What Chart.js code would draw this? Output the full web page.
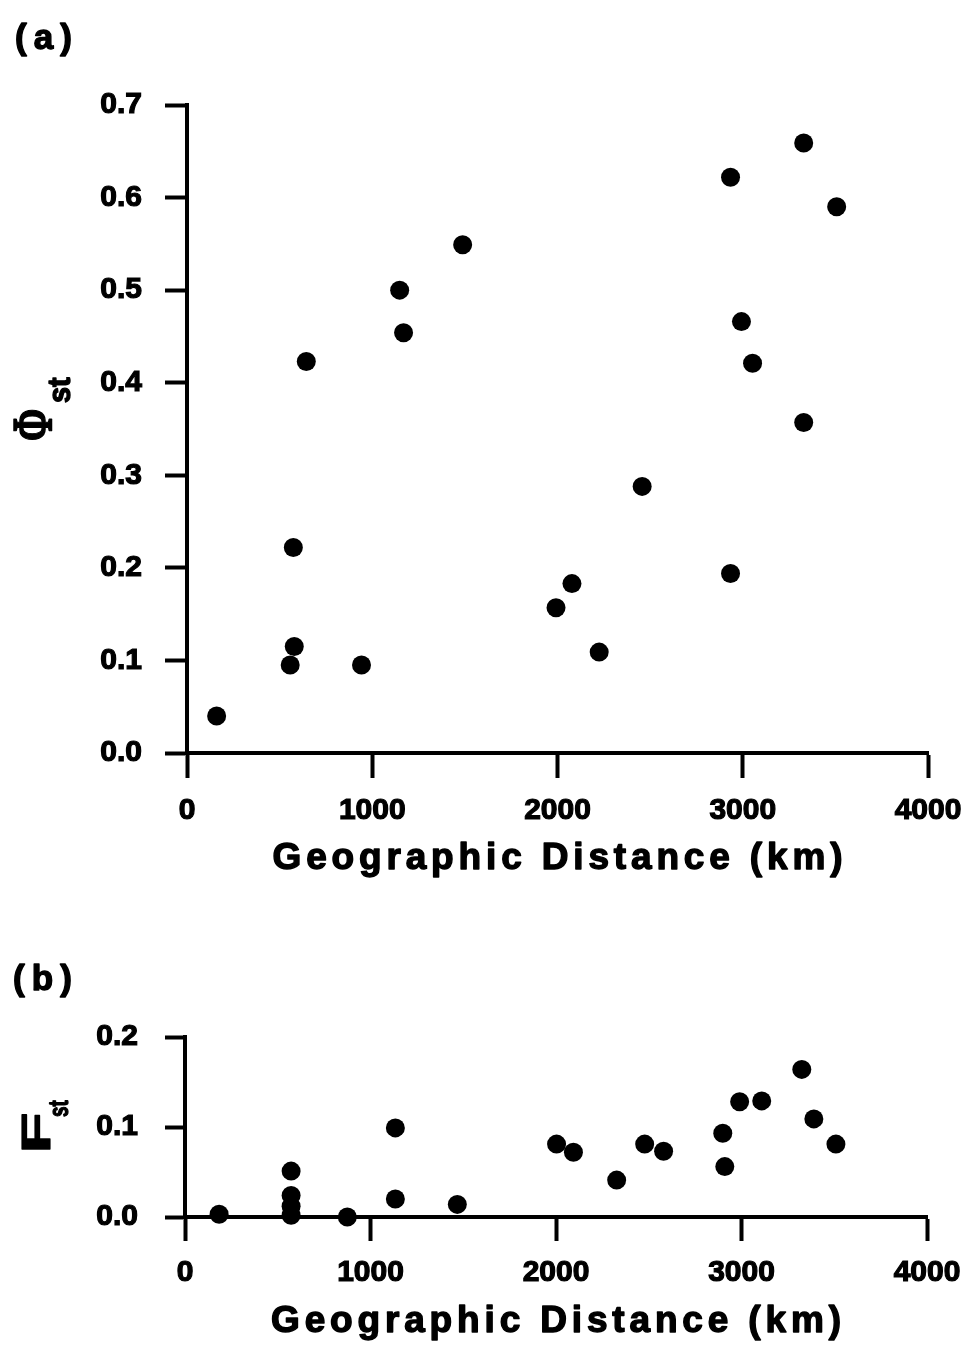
<!DOCTYPE html>
<html>
<head>
<meta charset="utf-8">
<script src="https://cdn.jsdelivr.net/npm/chart.js@4.4.1/dist/chart.umd.min.js"></script>
<style>
  body { margin: 0; background: #fff; }
  canvas { display: block; }
</style>
</head>
<body>
<canvas id="chartA" width="963" height="900"></canvas>
<canvas id="chartB" width="963" height="447"></canvas>
<script>
// (a) Phi_st against geographic distance
const phiDist = [160, 557, 579, 574, 644, 942, 1148, 1169, 1488, 1992, 2078, 2225, 2457, 2934, 2934, 2993, 3053, 3329, 3329, 3507];
const phiVal = [0.040, 0.095, 0.115, 0.222, 0.423, 0.095, 0.500, 0.454, 0.549, 0.157, 0.183, 0.109, 0.288, 0.194, 0.622, 0.466, 0.421, 0.357, 0.659, 0.590];

// (b) F_st against geographic distance
const fstDist = [184, 572, 572, 572, 572, 875, 1134, 1134, 1468, 2003, 2094, 2327, 2478, 2580, 2899, 2910, 2990, 3109, 3325, 3390, 3509];
const fstVal = [0.003, 0.051, 0.024, 0.012, 0.002, 0.000, 0.099, 0.020, 0.014, 0.081, 0.072, 0.041, 0.081, 0.073, 0.093, 0.056, 0.128, 0.129, 0.164, 0.109, 0.081];

const xTicks = [0, 1000, 2000, 3000, 4000];
const xTitle = 'Geographic Distance (km)';

const FONT = '"Liberation Sans", Arial, sans-serif';

// draw text spread between left and right (the original uses wide tracking)
function spacedText(ctx, text, left, right, baseline) {
    const chars = [...text];
    const widths = chars.map(c => ctx.measureText(c).width);
    const natural = widths.reduce((a, b) => a + b, 0);
    const gap = (right - left - natural) / (chars.length - 1);
    let x = left;
    chars.forEach((c, i) => {
        ctx.fillText(c, x, baseline);
        ctx.strokeText(c, x, baseline);
        x += widths[i] + gap;
    });
}

// rotated (reading upward) text fitted into a box on screen
function fitRotated(ctx, text, font, box) {
    const [x1, y1, x2, y2] = box;
    ctx.save();
    ctx.font = font;
    const m = ctx.measureText(text);
    const w = m.actualBoundingBoxLeft + m.actualBoundingBoxRight;
    const h = m.actualBoundingBoxAscent + m.actualBoundingBoxDescent;
    ctx.translate(x1, y2);
    ctx.rotate(-Math.PI / 2);
    ctx.scale((y2 - y1) / w, (x2 - x1) / h);
    ctx.fillText(text, m.actualBoundingBoxLeft, m.actualBoundingBoxAscent);
    ctx.strokeText(text, m.actualBoundingBoxLeft, m.actualBoundingBoxAscent);
    ctx.restore();
}

const panelText = {
    id: 'panelText',
    afterDraw(chart, args, opts) {
        const ctx = chart.ctx;
        ctx.save();
        ctx.fillStyle = '#000';
        ctx.strokeStyle = '#000';
        ctx.lineWidth = 1.4;
        ctx.lineJoin = 'round';
        ctx.textAlign = 'left';
        ctx.textBaseline = 'alphabetic';

        ctx.font = 'bold 35px ' + FONT;
        spacedText(ctx, opts.label, opts.labelBox[0], opts.labelBox[1], opts.labelBox[2]);

        ctx.font = 'bold 37px ' + FONT;
        const mid = (chart.chartArea.left + chart.chartArea.right) / 2;
        spacedText(ctx, xTitle, mid - opts.titleWidth / 2, mid + opts.titleWidth / 2, opts.titleBase);

        ctx.lineWidth = 1.2;
        fitRotated(ctx, opts.yMain, opts.yMainFont, opts.yMainBox);
        fitRotated(ctx, 'st', 'bold 26px ' + FONT, opts.ySubBox);
        ctx.restore();
    }
};

function makeChart(id, xs, ys, cfg) {
    const ctx = document.getElementById(id).getContext('2d');
    return new Chart(ctx, {
        type: 'scatter',
        data: {
            datasets: [{
                data: xs.map((x, i) => ({ x: x, y: ys[i] })),
                backgroundColor: '#000',
                borderWidth: 0,
                pointRadius: 9.5,
                pointHoverRadius: 9.5,
                clip: false
            }]
        },
        options: {
            responsive: false,
            animation: false,
            events: [],
            layout: { padding: { left: 0, right: cfg.right, top: cfg.top, bottom: 0 } },
            plugins: {
                legend: { display: false },
                tooltip: { enabled: false },
                panelText: cfg.text
            },
            scales: {
                x: {
                    type: 'linear',
                    min: 0,
                    max: 4000,
                    afterBuildTicks: function(scale) {
                        scale.ticks = xTicks.map(v => ({ value: v }));
                    },
                    ticks: {
                        color: '#000',
                        font: { family: FONT, size: 30, weight: 'bold' },
                        textStrokeColor: '#000',
                        textStrokeWidth: 1.2,
                        padding: cfg.xPad,
                        maxRotation: 0,
                        autoSkip: false,
                        callback: v => String(v)
                    },
                    grid: { drawOnChartArea: false, tickLength: cfg.xTick, tickWidth: 4, tickColor: '#000' },
                    border: { color: '#000', width: 4 },
                    afterFit: function(scale) {
                        scale.height = cfg.xHeight;
                        scale.paddingLeft = 0;
                        scale.paddingRight = 0;
                    }
                },
                y: {
                    min: 0,
                    max: cfg.yMax,
                    ticks: {
                        stepSize: 0.1,
                        color: '#000',
                        font: { family: FONT, size: cfg.yFont, weight: 'bold' },
                        textStrokeColor: '#000',
                        textStrokeWidth: 1.2,
                        padding: cfg.yPad,
                        callback: v => v.toFixed(1)
                    },
                    grid: { drawOnChartArea: false, tickLength: cfg.yTick, tickWidth: 4, tickColor: '#000' },
                    border: { color: '#000', width: 4 },
                    afterFit: function(scale) {
                        scale.width = cfg.yWidth;
                        scale.paddingTop = 0;
                        scale.paddingBottom = 0;
                    }
                }
            }
        },
        plugins: [panelText]
    });
}

makeChart('chartA', phiDist, phiVal, {
    right: 35, top: 105, xHeight: 147, yWidth: 187, yMax: 0.7,
    xTick: 25, xPad: 15, yTick: 22, yPad: 23, yFont: 30,
    text: {
        label: '(a)', labelBox: [15, 72, 49],
        titleWidth: 570, titleBase: 869,
        yMain: '\u03A6', yMainFont: 'bold 44px "Liberation Serif", serif',
        yMainBox: [15, 410, 52, 440],
        ySubBox: [50, 377, 70, 403]
    }
});

makeChart('chartB', fstDist, fstVal, {
    right: 36, top: 137, xHeight: 130, yWidth: 185, yMax: 0.2,
    xTick: 24, xPad: 14, yTick: 20, yPad: 27, yFont: 30,
    text: {
        label: '(b)', labelBox: [13, 72, 90],
        titleWidth: 570, titleBase: 432,
        yMain: 'F', yMainFont: 'bold 40px ' + FONT,
        yMainBox: [22, 215, 50, 250],
        ySubBox: [50, 200, 68, 217]
    }
});
</script>
</body>
</html>
